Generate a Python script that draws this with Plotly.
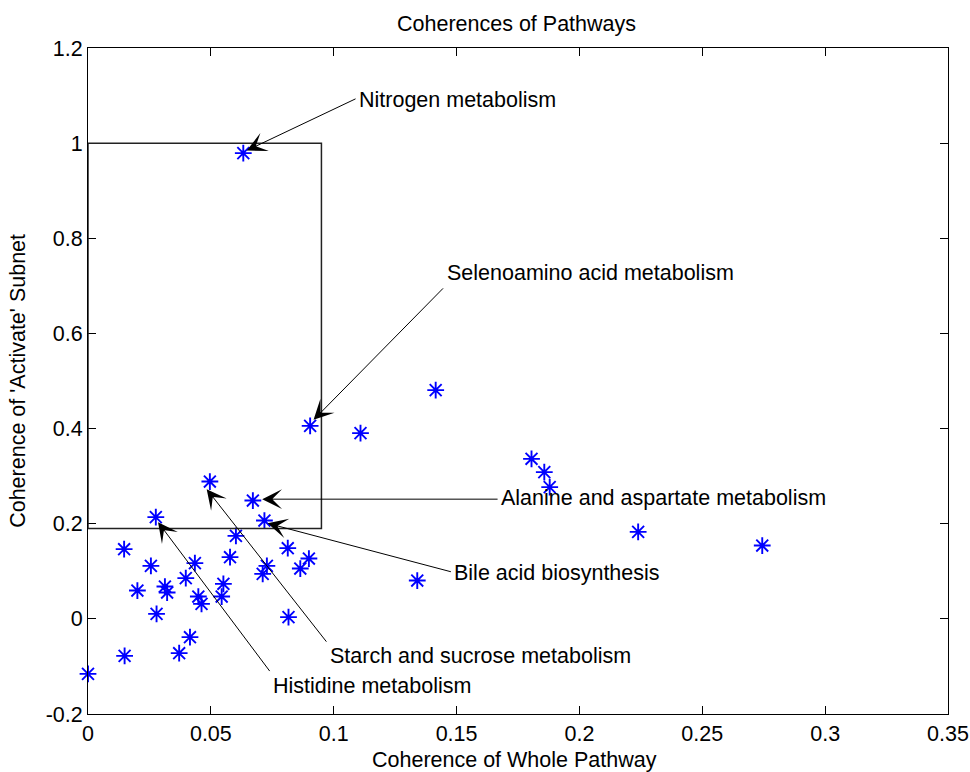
import plotly.graph_objects as go

# ---- data ----
whole_pathway = [
    0.0496, 0.0671, 0.0276, 0.0718, 0.0602, 0.0147, 0.0813, 0.0578, 0.0899, 0.0256,
    0.0435, 0.0728, 0.0864, 0.0711, 0.0398, 0.0551, 0.0313, 0.0201, 0.0322, 0.0449,
    0.0544, 0.0462, 0.0279, 0.0816, 0.0415, 0.0149, 0.0371, 0.0000,
    0.0632, 0.0904, 0.1109, 0.1415, 0.1805, 0.1857, 0.1879, 0.2239, 0.2744, 0.1340,
]
active_subnet = [
    0.2886, 0.2487, 0.2138, 0.2066, 0.1745, 0.1465, 0.1486, 0.1297, 0.1268, 0.1114,
    0.1171, 0.1114, 0.1057, 0.0946, 0.0856, 0.0736, 0.0679, 0.0595, 0.0553, 0.0469,
    0.0469, 0.0315, 0.0105, 0.0036, -0.0385, -0.0778, -0.0721, -0.1156,
    0.9790, 0.4057, 0.3904, 0.4808, 0.3364, 0.3084, 0.2769, 0.1829, 0.1541, 0.0805,
]

# highlighted region (x0, x1, y0, y1)
region = [0.0, 0.095, 0.19, 1.0]

labels = [
    "Nitrogen metabolism",
    "Selenoamino acid metabolism",
    "Alanine and aspartate metabolism",
    "Bile acid biosynthesis",
    "Starch and sucrose metabolism",
    "Histidine metabolism",
]
# arrow head (data coords)
head_x = [0.0646, 0.0918, 0.0709, 0.0731, 0.0483, 0.0285]
head_y = [0.9845, 0.4183, 0.2516, 0.2008, 0.2727, 0.2033]
# arrow tail (data coords)
tail_x = [0.1095, 0.1451, 0.1673, 0.1483, 0.0975, 0.0744]
tail_y = [1.0946, 0.6979, 0.2516, 0.0982, -0.0511, -0.1129]
# label left edge / centre (data coords)
text_x = [0.1096, 0.1451, 0.1673, 0.1483, 0.0977, 0.0744]
text_y = [1.0910, 0.7274, 0.2544, 0.0967, -0.0778, -0.1408]

x_ticks = [0, 0.05, 0.1, 0.15, 0.2, 0.25, 0.3, 0.35]
x_ticktext = ["0", "0.05", "0.1", "0.15", "0.2", "0.25", "0.3", "0.35"]
y_ticks = [-0.2, 0, 0.2, 0.4, 0.6, 0.8, 1.0, 1.2]
y_ticktext = ["-0.2", "0", "0.2", "0.4", "0.6", "0.8", "1", "1.2"]

FONT = "Liberation Sans, Arial, sans-serif"
FS = 21.5

fig = go.Figure()
fig.add_trace(go.Scatter(
    x=whole_pathway, y=active_subnet, mode="markers",
    marker=dict(symbol="asterisk-open", size=14, color="#0000ff",
                line=dict(color="#0000ff", width=1.9)),
    showlegend=False, cliponaxis=False,
))

fig.add_shape(type="rect", xref="x", yref="y",
              x0=region[0], x1=region[1], y0=region[2], y1=region[3],
              line=dict(color="#222222", width=1.5))

ann = []
for i in range(len(labels)):
    ann.append(dict(x=head_x[i], y=head_y[i], ax=tail_x[i], ay=tail_y[i],
                    xref="x", yref="y", axref="x", ayref="y",
                    text="", showarrow=True, arrowhead=3, arrowsize=3.3,
                    arrowwidth=1, arrowcolor="black", standoff=0))
    ann.append(dict(x=text_x[i], y=text_y[i], xref="x", yref="y",
                    text=labels[i], showarrow=False, xanchor="left",
                    yanchor="middle", font=dict(family=FONT, size=FS, color="black")))

ann.append(dict(x=0.4977, y=1.036, xref="paper", yref="paper",
                text="Coherences of Pathways", showarrow=False,
                xanchor="center", yanchor="middle",
                font=dict(family=FONT, size=FS, color="black")))
ann.append(dict(x=0.4965, y=-0.069, xref="paper", yref="paper",
                text="Coherence of Whole Pathway", showarrow=False,
                xanchor="center", yanchor="middle",
                font=dict(family=FONT, size=FS, color="black")))
ann.append(dict(x=-0.0816, y=0.5, xref="paper", yref="paper",
                text="Coherence of 'Activate' Subnet", showarrow=False,
                textangle=-90, xanchor="center", yanchor="middle",
                font=dict(family=FONT, size=FS, color="black")))

axis_common = dict(showline=True, linecolor="black", linewidth=1, mirror="ticks",
                   ticks="inside", ticklen=8, tickcolor="black", tickwidth=1,
                   showgrid=False, zeroline=False, automargin=False,
                   tickfont=dict(family=FONT, size=FS, color="black"))

fig.update_layout(
    width=970, height=772,
    margin=dict(l=88, r=22, t=48, b=58, autoexpand=False),
    paper_bgcolor="white", plot_bgcolor="white",
    xaxis=dict(range=[0, 0.35], tickvals=x_ticks, ticktext=x_ticktext, **axis_common),
    yaxis=dict(range=[-0.2, 1.2], tickvals=y_ticks, ticktext=y_ticktext, **axis_common),
    annotations=ann,
)

fig.write_html("out.html")
